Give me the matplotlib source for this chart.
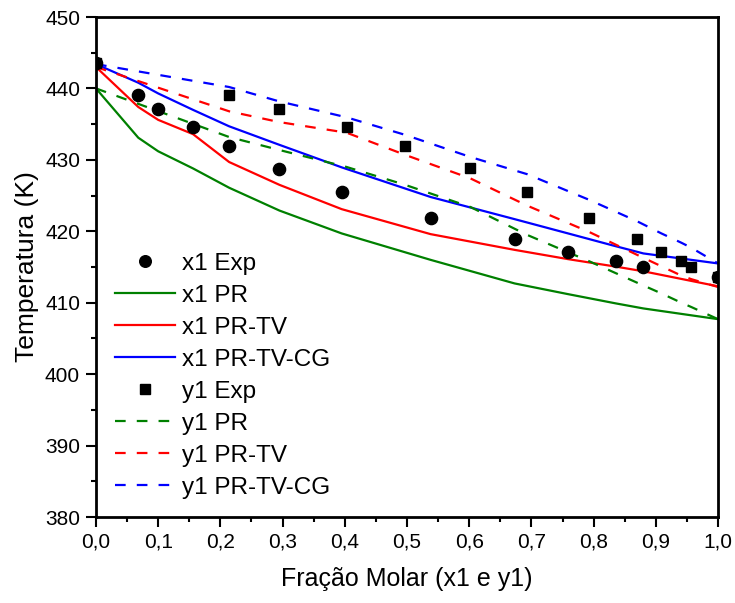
import matplotlib
matplotlib.use("Agg")
import matplotlib.pyplot as plt
from matplotlib.ticker import MultipleLocator, FuncFormatter

plt.rcParams['font.family'] = ['Liberation Sans', 'DejaVu Sans']

# x1 experimental (liquid) points
x1_exp = [0.0, 0.068, 0.100, 0.156, 0.214, 0.295, 0.395, 0.538, 0.673, 0.759, 0.836, 0.880, 1.0]
T_x1_exp = [443.5, 439.1, 437.1, 434.6, 432.0, 428.7, 425.5, 421.9, 418.9, 417.05, 415.8, 415.0, 413.6]

# y1 experimental (vapour) points
y1_exp = [0.0, 0.214, 0.294, 0.403, 0.497, 0.602, 0.693, 0.793, 0.870, 0.909, 0.941, 0.957, 1.0]
T_y1_exp = [443.5, 439.1, 437.1, 434.6, 432.0, 428.8, 425.5, 421.9, 418.9, 417.05, 415.9, 415.0, 413.6]

# model curves evaluated at experimental compositions
T_x1_PR = [440.0, 433.1, 431.2, 428.8, 426.1, 422.9, 419.7, 416.0, 412.7, 411.2, 409.9, 409.2, 407.7]
T_x1_PRTV = [443.0, 437.4, 435.6, 433.6, 429.7, 426.5, 423.1, 419.6, 417.4, 416.1, 415.05, 414.4, 412.3]
T_x1_PRTVCG = [443.4, 440.8, 439.3, 437.0, 434.7, 432.1, 428.95, 424.8, 421.7, 419.7, 417.9, 416.9, 415.5]

T_y1_PR = [440.0, 433.2, 431.4, 429.0, 426.5, 423.4, 419.5, 415.8, 412.8, 411.3, 410.0, 409.4, 407.7]
T_y1_PRTV = [443.0, 436.8, 435.3, 433.8, 430.7, 427.4, 423.6, 419.9, 416.7, 415.1, 413.8, 413.3, 412.2]
T_y1_PRTVCG = [443.4, 440.2, 438.2, 435.95, 433.5, 430.4, 428.0, 424.4, 421.4, 419.7, 418.4, 417.7, 415.5]

fig = plt.figure(figsize=(7.35, 6.03), dpi=100)
ax = fig.add_axes([0.1306, 0.1426, 0.9769 - 0.1306, 0.9718 - 0.1426])

lw = 1.6
dash = (4.8, 5.0)
ax.plot(x1_exp, T_x1_exp, 'o', color='black', markersize=8.8, label='x1 Exp', zorder=5)
ax.plot(x1_exp, T_x1_PR, '-', color='#008000', lw=lw, label='x1 PR')
ax.plot(x1_exp, T_x1_PRTV, '-', color='#ff0000', lw=lw, label='x1 PR-TV')
ax.plot(x1_exp, T_x1_PRTVCG, '-', color='#0000ff', lw=lw, label='x1 PR-TV-CG')
ax.plot(y1_exp, T_y1_exp, 's', color='black', markersize=7.4, label='y1 Exp', zorder=5)
ax.plot(y1_exp, T_y1_PR, '--', color='#008000', lw=lw, dashes=dash, label='y1 PR')
ax.plot(y1_exp, T_y1_PRTV, '--', color='#ff0000', lw=lw, dashes=dash, label='y1 PR-TV')
ax.plot(y1_exp, T_y1_PRTVCG, '--', color='#0000ff', lw=lw, dashes=dash, label='y1 PR-TV-CG')

ax.set_xlim(0, 1.0)
ax.set_ylim(380, 450)
ax.xaxis.set_major_locator(MultipleLocator(0.1))
ax.xaxis.set_minor_locator(MultipleLocator(0.05))
ax.yaxis.set_major_locator(MultipleLocator(10))
ax.yaxis.set_minor_locator(MultipleLocator(5))
ax.xaxis.set_major_formatter(FuncFormatter(lambda v, p: f"{v:.1f}".replace('.', ',')))
ax.yaxis.set_major_formatter(FuncFormatter(lambda v, p: f"{v:.0f}"))

ax.tick_params(which='major', direction='out', length=7, width=1.5, labelsize=15, pad=4.5)
ax.tick_params(which='minor', direction='out', length=3.6, width=1.5)
for s in ax.spines.values():
    s.set_linewidth(2.0)

ax.set_xlabel('Fração Molar (x1 e y1)', fontsize=18, labelpad=11)
ax.set_ylabel('Temperatura (K)', fontsize=19, labelpad=4)

leg = ax.legend(loc='lower left', bbox_to_anchor=(0.0155, 0.017), frameon=False, fontsize=17.5,
                handlelength=2.45, handletextpad=0.3, labelspacing=0.41, markerscale=0.95,
                borderaxespad=0.0, borderpad=0.4)

fig.savefig('out.png', dpi=100)
